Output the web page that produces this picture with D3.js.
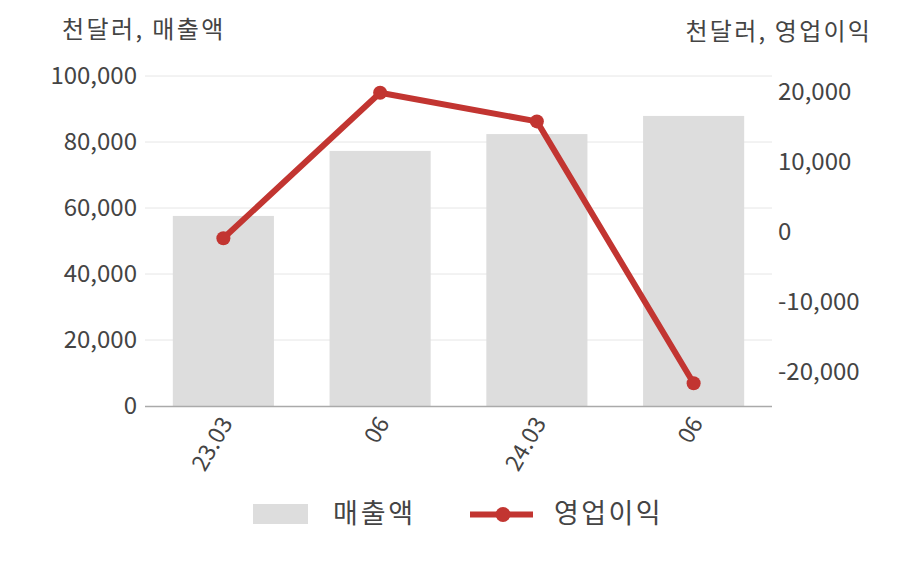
<!DOCTYPE html>
<html><head><meta charset="utf-8">
<script src="https://cdn.jsdelivr.net/npm/d3@7"></script>
<style>
body{margin:0;background:#fff;}
text{font-family:"Noto Sans CJK KR","Noto Sans",sans-serif;}
</style></head>
<body><svg id="c" width="908" height="580"></svg>
<script>
const categories = ["23.03","06","24.03","06"];
const revenue = [57600, 77300, 82400, 87900];
const opIncome = [-900, 19900, 15800, -21600];
const leftTicks = [0,20000,40000,60000,80000,100000];
const rightTicks = [-20000,-10000,0,10000,20000];
const leftTitle = "천달러, 매출액";
const rightTitle = "천달러, 영업이익";
const seriesNames = ["매출액","영업이익"];

const svg = d3.select("#c");
const L=145, R=772, T=76, B=406;
const x = d3.scaleBand().domain(d3.range(categories.length)).range([L,R]).paddingInner(0.355).paddingOuter(0.1775);
const yL = d3.scaleLinear().domain([0,100000]).range([B,T]);
const yR = d3.scaleLinear().domain([-24857,22286]).range([B,T]);
const fmt = d => d3.format(",")(d).replace("\u2212","-");
const txt = "#444";

// grid
svg.append("g").selectAll("line").data(leftTicks.slice(1)).join("line")
  .attr("x1",L).attr("x2",R).attr("y1",d=>yL(d)).attr("y2",d=>yL(d))
  .attr("stroke","#e6e6e6").attr("stroke-width",1);

// bars
svg.append("g").selectAll("rect").data(revenue).join("rect")
  .attr("x",(d,i)=>x(i)).attr("width",x.bandwidth())
  .attr("y",d=>yL(d)).attr("height",d=>B-yL(d)).attr("fill","#dddddd");

// axis baseline
svg.append("line").attr("x1",L).attr("x2",R).attr("y1",B+0.5).attr("y2",B+0.5).attr("stroke","#aaaaaa").attr("stroke-width",1.3);

// left axis
const gl = svg.append("g").attr("transform",`translate(${L},0)`)
  .call(d3.axisLeft(yL).tickValues(leftTicks).tickFormat(fmt).tickSize(0).tickPadding(8));
gl.select(".domain").remove();
gl.selectAll("text").attr("font-size",24).attr("fill",txt);

// right axis
const gr = svg.append("g").attr("transform",`translate(${R},0)`)
  .call(d3.axisRight(yR).tickValues(rightTicks).tickFormat(fmt).tickSize(0).tickPadding(6));
gr.select(".domain").remove();
gr.selectAll("text").attr("font-size",24).attr("fill",txt);

// x labels
svg.append("g").selectAll("text").data(categories).join("text")
  .attr("transform",(d,i)=>`translate(${x(i)+x.bandwidth()/2+10},${B+17}) rotate(-60)`)
  .attr("text-anchor","end").attr("font-size",23).attr("fill",txt).text(d=>d);

// titles
svg.append("text").attr("x",62).attr("y",38).attr("font-size",24).attr("letter-spacing","2.4px").attr("fill",txt).text(leftTitle);
svg.append("text").attr("x",872).attr("y",40).attr("text-anchor","end").attr("font-size",24).attr("letter-spacing","2.2px").attr("fill",txt).text(rightTitle);

// line
const cx = i=>x(i)+x.bandwidth()/2;
svg.append("path").datum(opIncome)
  .attr("d",d3.line().x((d,i)=>cx(i)).y(d=>yR(d)))
  .attr("fill","none").attr("stroke","#c23531").attr("stroke-width",6).attr("stroke-linejoin","round");
svg.append("g").selectAll("circle").data(opIncome).join("circle")
  .attr("cx",(d,i)=>cx(i)).attr("cy",d=>yR(d)).attr("r",7).attr("fill","#c23531");

// legend
const lg = svg.append("g");
lg.append("rect").attr("x",253).attr("y",504).attr("width",55).attr("height",20).attr("fill","#dddddd");
lg.append("text").attr("x",333).attr("y",523).attr("font-size",27).attr("letter-spacing","2.8px").attr("fill",txt).text(seriesNames[0]);
lg.append("line").attr("x1",470).attr("x2",533).attr("y1",514.5).attr("y2",514.5).attr("stroke","#c23531").attr("stroke-width",6);
lg.append("circle").attr("cx",503).attr("cy",514.5).attr("r",7.5).attr("fill","#c23531");
lg.append("text").attr("x",554).attr("y",523).attr("font-size",27).attr("letter-spacing","2.4px").attr("fill",txt).text(seriesNames[1]);
</script></body></html>
